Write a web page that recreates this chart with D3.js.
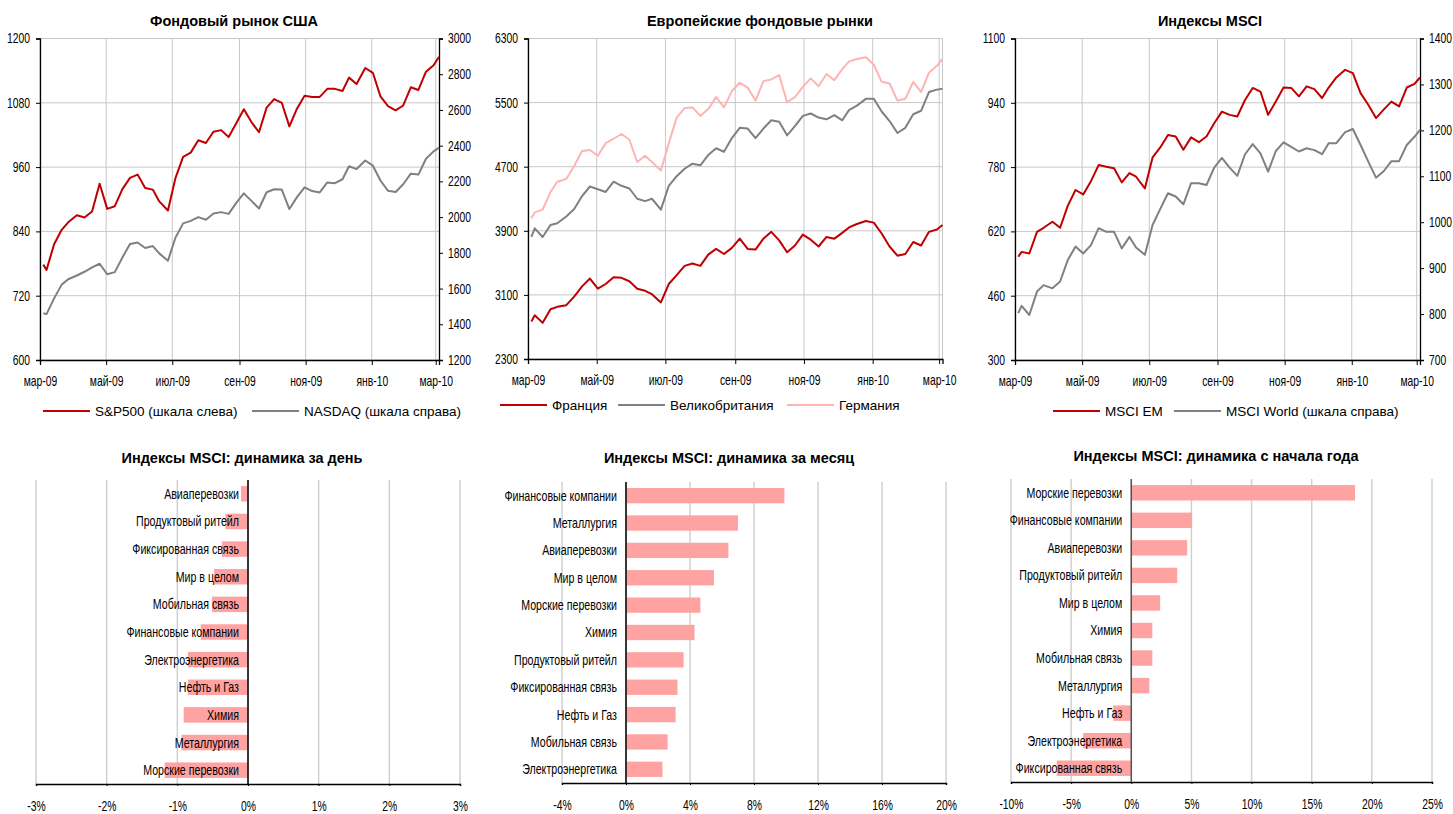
<!DOCTYPE html>
<html>
<head>
<meta charset="utf-8">
<script src="https://cdn.jsdelivr.net/npm/d3@7"></script>
<style>
  body { margin: 0; background: #fff; }
  svg { display: block; }
  .tick-label { font-family: "Liberation Sans", Arial, sans-serif; font-size: 14px; fill: #000; }
  .title { font-family: "Liberation Sans", Arial, sans-serif; font-size: 14.5px; font-weight: bold; fill: #000; }
  .legend { font-family: "Liberation Sans", Arial, sans-serif; font-size: 13.5px; fill: #000; }
</style>
</head>
<body>
<svg id="chart" width="1453" height="814"></svg>
<script>
// weekly closes, 17 Mar 2009 - 17 Mar 2010
const dates = ["2009-03-17","2009-03-20","2009-03-27","2009-04-03","2009-04-09","2009-04-17","2009-04-24","2009-05-01","2009-05-08","2009-05-15","2009-05-22","2009-05-29","2009-06-05","2009-06-12","2009-06-19","2009-06-26","2009-07-02","2009-07-10","2009-07-17","2009-07-24","2009-07-31","2009-08-07","2009-08-14","2009-08-21","2009-08-28","2009-09-04","2009-09-11","2009-09-18","2009-09-25","2009-10-02","2009-10-09","2009-10-16","2009-10-23","2009-10-30","2009-11-06","2009-11-13","2009-11-20","2009-11-27","2009-12-04","2009-12-11","2009-12-18","2009-12-24","2009-12-31","2010-01-08","2010-01-15","2010-01-22","2010-01-29","2010-02-05","2010-02-12","2010-02-19","2010-02-26","2010-03-05","2010-03-12","2010-03-17"];

const sp500 = [778,768,816,843,857,870,866,877,929,882,887,919,940,946,921,918,896,879,940,979,987,1010,1005,1026,1029,1016,1042,1068,1044,1025,1071,1087,1080,1036,1069,1093,1091,1091,1106,1106,1102,1127,1115,1145,1136,1092,1074,1066,1075,1109,1104,1138,1150,1166];
const nasdaq = [1462,1457,1545,1622,1652,1673,1694,1719,1739,1680,1692,1774,1849,1858,1827,1838,1797,1756,1886,1965,1979,2000,1985,2020,2028,2018,2080,2133,2091,2048,2139,2156,2154,2045,2112,2167,2146,2138,2194,2190,2212,2285,2269,2317,2288,2205,2147,2141,2184,2243,2238,2327,2368,2389];

const france = [2768,2845,2751,2921,2951,2972,3079,3206,3304,3177,3236,3321,3313,3270,3177,3151,3109,3006,3236,3347,3462,3491,3462,3602,3674,3610,3687,3802,3674,3666,3802,3887,3781,3632,3717,3853,3789,3704,3823,3802,3874,3942,3985,4023,4002,3866,3704,3589,3611,3760,3717,3887,3917,3972];
const uk = [3823,3930,3823,3972,3994,4079,4172,4334,4453,4419,4385,4513,4462,4428,4300,4270,4300,4164,4462,4581,4674,4738,4717,4845,4930,4887,5057,5185,5176,5057,5176,5279,5262,5091,5206,5334,5364,5313,5291,5343,5279,5406,5462,5547,5547,5389,5270,5121,5185,5355,5398,5632,5662,5674];
const germany = [4057,4130,4164,4385,4513,4547,4708,4896,4908,4836,4994,5049,5108,5036,4759,4836,4759,4653,4994,5313,5432,5440,5334,5419,5568,5440,5644,5747,5687,5525,5768,5789,5844,5504,5568,5696,5802,5704,5857,5781,5917,6015,6044,6066,5972,5759,5738,5525,5547,5759,5632,5874,5959,6044];

const msciEM = [557,569,565,619,629,644,629,684,723,712,745,785,781,777,742,765,756,727,804,829,860,856,823,854,842,856,889,918,910,906,947,977,968,910,943,978,977,956,981,974,952,978,1003,1022,1014,964,935,902,923,943,931,978,987,1003];
const msciWorld = [802,818,798,849,863,856,871,918,947,932,950,987,979,979,943,968,945,929,994,1029,1063,1056,1039,1085,1085,1081,1119,1140,1119,1101,1148,1170,1150,1110,1155,1174,1164,1154,1161,1157,1148,1172,1172,1196,1203,1168,1132,1097,1111,1133,1133,1168,1186,1201];

// time axis ticks
const monthTicks = ["2009-03-14","2009-05-14","2009-07-14","2009-09-14","2009-11-14","2010-01-14","2010-03-14"];
const monthLabels = ["мар-09","май-09","июл-09","сен-09","ноя-09","янв-10","мар-10"];

// sector bars
const dayCats = ["Авиаперевозки","Продуктовый ритейл","Фиксированная связь","Мир в целом","Мобильная связь","Финансовые компании","Электроэнергетика","Нефть и Газ","Химия","Металлургия","Морские перевозки"];
const dayVals = [-0.10,-0.32,-0.37,-0.48,-0.51,-0.67,-0.85,-0.85,-0.91,-0.94,-1.18];
const dayTicks = [-3,-2,-1,0,1,2,3];

const monthCats = ["Финансовые компании","Металлургия","Авиаперевозки","Мир в целом","Морские перевозки","Химия","Продуктовый ритейл","Фиксированная связь","Нефть и Газ","Мобильная связь","Электроэнергетика"];
const monthVals = [9.9,7.0,6.4,5.5,4.65,4.28,3.6,3.22,3.1,2.6,2.28];
const monthTicksPct = [-4,0,4,8,12,16,20];

const ytdCats = ["Морские перевозки","Финансовые компании","Авиаперевозки","Продуктовый ритейл","Мир в целом","Химия","Мобильная связь","Металлургия","Нефть и Газ","Электроэнергетика","Фиксированная связь"];
const ytdVals = [18.6,5.05,4.65,3.82,2.4,1.75,1.75,1.5,-1.5,-4.0,-6.2];
const ytdTicks = [-10,-5,0,5,10,15,20,25];

const RED = "#c00000", GRAY = "#808080", PINK = "#ffb4b4", BAR = "#ffa2a2", GRID = "#c8c8c8";

const svg = d3.select("#chart");
const parse = d3.timeParse("%Y-%m-%d");
const dateObjs = dates.map(parse);

// squeeze text horizontally, the source uses a narrow face
function condense(sel, k) {
  sel.each(function () {
    const t = d3.select(this);
    const x = +t.attr("x") || 0;
    t.attr("x", x / k).attr("transform", `scale(${k},1)`);
  });
}

function lineChart(cfg) {
  const g = svg.append("g");
  const x = d3.scaleTime()
    .domain([parse("2009-03-14"), parse("2010-03-17")])
    .range([cfg.x0, cfg.x1]);
  const yL = d3.scaleLinear().domain(cfg.left.domain).range([cfg.yBot, cfg.yTop]);
  const yR = cfg.right ? d3.scaleLinear().domain(cfg.right.domain).range([cfg.yBot, cfg.yTop]) : null;
  const tickDates = monthTicks.map(parse);

  // grid
  g.selectAll(".hg").data(cfg.left.ticks).enter().append("line")
    .attr("x1", cfg.x0).attr("x2", cfg.x1)
    .attr("y1", d => yL(d)).attr("y2", d => yL(d))
    .attr("stroke", GRID).attr("stroke-width", 1);
  g.selectAll(".vg").data(tickDates).enter().append("line")
    .attr("x1", d => x(d)).attr("x2", d => x(d))
    .attr("y1", cfg.yTop).attr("y2", cfg.yBot)
    .attr("stroke", GRID).attr("stroke-width", 1);
  if (cfg.border) {
    g.append("line").attr("x1", cfg.x1).attr("x2", cfg.x1)
      .attr("y1", cfg.yTop).attr("y2", cfg.yBot).attr("stroke", GRID);
  }

  // axes
  const fmt = d3.format("d");
  const axL = g.append("g").attr("transform", `translate(${cfg.x0},0)`)
    .call(d3.axisLeft(yL).tickValues(cfg.left.ticks).tickSize(4).tickPadding(6).tickFormat(fmt));
  const axB = g.append("g").attr("transform", `translate(0,${cfg.yBot})`)
    .call(d3.axisBottom(x).tickValues(tickDates).tickSize(5).tickPadding(11)
      .tickFormat((d, i) => monthLabels[i]));
  const axes = [axL, axB];
  if (yR) {
    axes.push(g.append("g").attr("transform", `translate(${cfg.x1},0)`)
      .call(d3.axisRight(yR).tickValues(cfg.right.ticks).tickSize(4).tickPadding(5).tickFormat(fmt)));
  }
  axes.forEach(a => {
    a.select(".domain").attr("stroke", "#000").attr("stroke-width", 1.3);
    a.selectAll(".tick line").attr("stroke", "#000");
    a.selectAll("text").attr("class", "tick-label").attr("font-family", null).attr("font-size", null)
      .call(condense, 0.74);
  });

  // series
  cfg.series.forEach(s => {
    const sc = s.right ? yR : yL;
    const line = d3.line().x((d, i) => x(dateObjs[i])).y(d => sc(d));
    g.append("path").datum(s.values).attr("d", line)
      .attr("fill", "none").attr("stroke", s.color).attr("stroke-width", 2)
      .attr("stroke-linejoin", "round");
  });

  g.append("text").attr("class", "title").attr("x", cfg.titleX).attr("y", 26)
    .attr("text-anchor", "middle").text(cfg.title);

  // legend
  cfg.series.forEach((s, i) => {
    const lx = cfg.legend[i];
    g.append("line").attr("x1", lx).attr("x2", lx + 47)
      .attr("y1", cfg.legendY).attr("y2", cfg.legendY)
      .attr("stroke", s.color).attr("stroke-width", 2);
    g.append("text").attr("class", "legend").attr("x", lx + 52).attr("y", cfg.legendY + 5)
      .text(s.name);
  });
}

lineChart({
  x0: 40, x1: 439, yTop: 38.5, yBot: 360,
  left: { domain: [600, 1200], ticks: [600, 720, 840, 960, 1080, 1200] },
  right: { domain: [1200, 3000], ticks: [1200, 1400, 1600, 1800, 2000, 2200, 2400, 2600, 2800, 3000] },
  series: [
    { name: "S&P500 (шкала слева)", values: sp500, color: RED },
    { name: "NASDAQ (шкала справа)", values: nasdaq, color: GRAY, right: true }
  ],
  title: "Фондовый рынок США", titleX: 234,
  legend: [43, 252], legendY: 411
});

lineChart({
  x0: 528, x1: 942.5, yTop: 38.5, yBot: 359, border: true,
  left: { domain: [2300, 6300], ticks: [2300, 3100, 3900, 4700, 5500, 6300] },
  series: [
    { name: "Франция", values: france, color: RED },
    { name: "Великобритания", values: uk, color: GRAY },
    { name: "Германия", values: germany, color: PINK }
  ],
  title: "Европейские фондовые рынки", titleX: 760,
  legend: [500, 618, 787], legendY: 405
});

lineChart({
  x0: 1015, x1: 1420, yTop: 38.5, yBot: 360,
  left: { domain: [300, 1100], ticks: [300, 460, 620, 780, 940, 1100] },
  right: { domain: [700, 1400], ticks: [700, 800, 900, 1000, 1100, 1200, 1300, 1400] },
  series: [
    { name: "MSCI EM", values: msciEM, color: RED },
    { name: "MSCI World (шкала справа)", values: msciWorld, color: GRAY, right: true }
  ],
  title: "Индексы MSCI", titleX: 1210,
  legend: [1053, 1174], legendY: 411
});

function barChart(cfg) {
  const g = svg.append("g");
  const x = d3.scaleLinear().domain(cfg.domain).range([cfg.x0, cfg.x1]);
  const y = d3.scaleBand().domain(cfg.cats).range([cfg.yTop, cfg.yBot]).paddingInner(0.44).paddingOuter(0.22);

  g.selectAll(".vg").data(cfg.ticks).enter().append("line")
    .attr("x1", d => x(d)).attr("x2", d => x(d))
    .attr("y1", cfg.yTop).attr("y2", cfg.yBot)
    .attr("stroke", "#d0d0d0").attr("stroke-width", 1.5);

  g.selectAll("rect").data(cfg.vals).enter().append("rect")
    .attr("x", d => Math.min(x(0), x(d)))
    .attr("width", d => Math.abs(x(d) - x(0)))
    .attr("y", (d, i) => y(cfg.cats[i]))
    .attr("height", y.bandwidth())
    .attr("fill", BAR);

  const ax = g.append("g").attr("transform", `translate(0,${cfg.yBot})`)
    .call(d3.axisBottom(x).tickValues(cfg.ticks).tickSize(2).tickPadding(15)
      .tickFormat(d => d + "%"));
  ax.select(".domain").attr("stroke", "#000").attr("stroke-width", 1.5);
  ax.selectAll(".tick line").attr("stroke", "#000");
  ax.selectAll("text").attr("class", "tick-label").attr("font-family", null).attr("font-size", null)
    .call(condense, 0.74);

  g.append("line").attr("x1", x(0)).attr("x2", x(0))
    .attr("y1", cfg.yTop).attr("y2", cfg.yBot)
    .attr("stroke", cfg.zeroColor || "#000").attr("stroke-width", 1.5);

  g.selectAll(".cat").data(cfg.cats).enter().append("text")
    .attr("class", "tick-label")
    .attr("x", x(0) - 9)
    .attr("y", d => y(d) + y.bandwidth() / 2 + 5)
    .attr("text-anchor", "end")
    .text(d => d)
    .call(condense, 0.76);

  g.append("text").attr("class", "title").attr("x", cfg.titleX).attr("y", cfg.titleY)
    .attr("text-anchor", "middle").text(cfg.title);
}

barChart({
  x0: 36, x1: 460, yTop: 480, yBot: 784,
  domain: [-3, 3], ticks: dayTicks, cats: dayCats, vals: dayVals,
  title: "Индексы MSCI: динамика за день", titleX: 242, titleY: 463
});
barChart({
  x0: 562, x1: 946, yTop: 482, yBot: 783,
  domain: [-4, 20], ticks: monthTicksPct, cats: monthCats, vals: monthVals,
  title: "Индексы MSCI: динамика за месяц", titleX: 729, titleY: 463
});
barChart({
  x0: 1011, x1: 1432, yTop: 479, yBot: 782,
  domain: [-10, 25], ticks: ytdTicks, cats: ytdCats, vals: ytdVals, zeroColor: "#555",
  title: "Индексы MSCI: динамика с начала года", titleX: 1216, titleY: 461
});
</script>
</body>
</html>
